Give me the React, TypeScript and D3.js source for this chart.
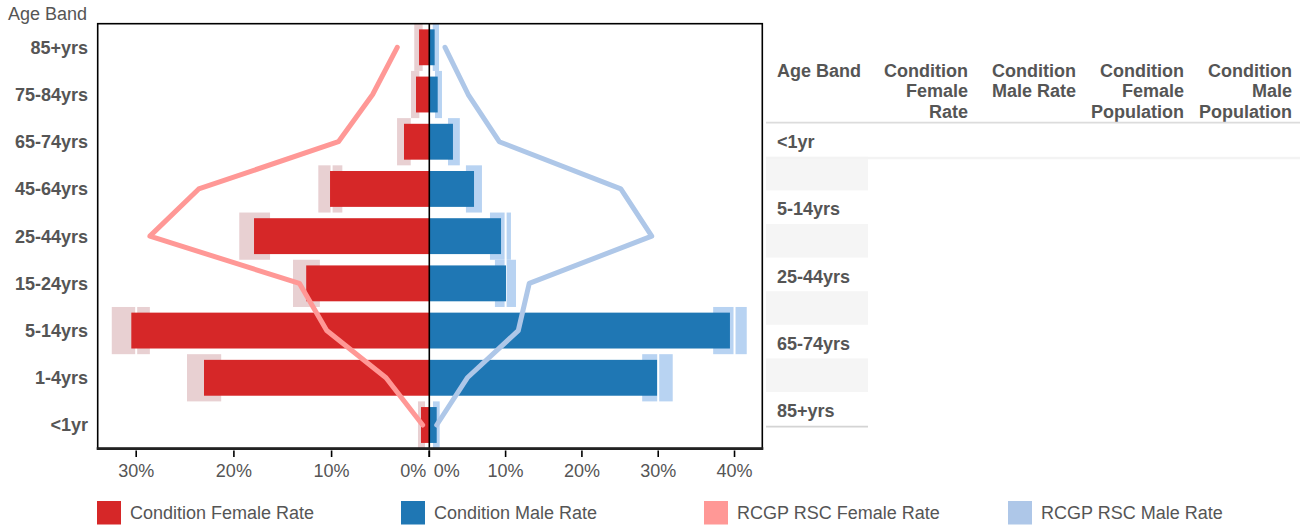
import React from "react";
import * as d3 from "d3";

// ---------- data ----------
const ageBands = ["<1yr", "1-4yrs", "5-14yrs", "15-24yrs", "25-44yrs", "45-64yrs", "65-74yrs", "75-84yrs", "85+yrs"];
const femaleRate = [0.85, 23.06, 30.5, 12.6, 17.94, 10.16, 2.59, 1.36, 1.05];
const femaleLow = [0.44, 21.3, 28.6, 11.2, 16.3, 8.9, 1.9, 1.02, 0.68];
const femaleHigh = [1.16, 24.8, 32.5, 13.95, 19.45, 11.36, 3.3, 1.87, 1.54];
const maleRate = [0.97, 29.85, 39.4, 10.05, 9.4, 5.86, 3.1, 1.1, 0.7];
const maleLow = [0.48, 27.9, 37.2, 8.6, 7.95, 4.8, 2.45, 0.75, 0.45];
const maleHigh = [1.36, 31.9, 41.6, 11.36, 10.7, 6.9, 4.0, 1.66, 1.27];
const rcgpFemaleRate = [0.68, 4.43, 10.5, 13.3, 28.6, 23.6, 9.3, 5.8, 3.28];
const rcgpMaleRate = [0.97, 4.98, 11.66, 13.1, 29.15, 25.1, 9.17, 5.1, 2.06];
const femaleTicks = [0, 10, 20, 30];
const maleTicks = [0, 10, 20, 30, 40];
const legendLabels = ["Condition Female Rate", "Condition Male Rate", "RCGP RSC Female Rate", "RCGP RSC Male Rate"];
const tableHeaders = [
  ["Condition", "Female", "Rate"],
  ["Condition", "Male Rate"],
  ["Condition", "Female", "Population"],
  ["Condition", "Male", "Population"],
];

// ---------- styles ----------
const FONT = "'Liberation Sans', Arial, sans-serif";
const TXT = "#555555";
const C_F = "#d62728";
const C_M = "#1f77b4";
const C_RF = "#ff9896";
const C_RM = "#aec7e8";
const C_FBOX = "#e8d0d2";
const C_MBOX = "#b8d3f2";

const W = 1309;
const H = 529;
const left = 97.7;
const mid = 429.3;
const right = 762.3;
const top = 23.7;
const bottom = 448.6;

export default function App() {
  const rows = ageBands.map((b, i) => ({
    band: b,
    f: femaleRate[i], fl: femaleLow[i], fh: femaleHigh[i],
    m: maleRate[i], ml: maleLow[i], mh: maleHigh[i],
    rf: rcgpFemaleRate[i], rm: rcgpMaleRate[i],
  }));

  const y = d3.scaleBand<string>()
    .domain([...ageBands].reverse())
    .range([top, bottom])
    .paddingInner(0.24)
    .paddingOuter(0.12);
  const step = y.step();
  const cy = (b: string) => (y(b) as number) + y.bandwidth() / 2;

  const xF = d3.scaleLinear().domain([0, 33.94]).range([mid, left]);
  const xM = d3.scaleLinear().domain([0, 43.64]).range([mid, right]);

  const lineF = d3.line<typeof rows[number]>().x((d) => xF(d.rf)).y((d) => cy(d.band));
  const lineM = d3.line<typeof rows[number]>().x((d) => xM(d.rm)).y((d) => cy(d.band));

  const legendColors = [C_F, C_M, C_RF, C_RM];
  const legendX = [97, 401, 704, 1008];

  // table
  const tLeft = 766;
  const tRight = 1300;
  const col1Right = 868;
  const colRights = [968, 1076, 1184, 1292];
  const headTop = 76.5;
  const lineH = 20.7;
  const headBorder = 122.7;
  const rowH = 33.6;

  return (
    <svg width={W} height={H} style={{ position: "absolute", left: 0, top: 0, background: "#fff" }} fontFamily={FONT}>
      {/* title */}
      <text x={8} y={20} fontSize={18} fill={TXT}>Age Band</text>

      {/* error boxes */}
      {rows.map((d) => (
        <g key={"eb" + d.band}>
          <rect x={xF(d.fh)} y={cy(d.band) - step / 2} width={xF(d.fl) - xF(d.fh)} height={step} fill={C_FBOX} />
          <rect x={xM(d.ml)} y={cy(d.band) - step / 2} width={xM(d.mh) - xM(d.ml)} height={step} fill={C_MBOX} />
        </g>
      ))}

      {/* white gridlines */}
      {femaleTicks.filter((t) => t > 0).map((t) => (
        <line key={"gf" + t} x1={xF(t)} x2={xF(t)} y1={top} y2={bottom} stroke="#fff" strokeWidth={2} />
      ))}
      {maleTicks.filter((t) => t > 0).map((t) => (
        <line key={"gm" + t} x1={xM(t)} x2={xM(t)} y1={top} y2={bottom} stroke="#fff" strokeWidth={2} />
      ))}

      {/* bars */}
      {rows.map((d) => (
        <g key={"b" + d.band}>
          <rect x={xF(d.f)} y={y(d.band)} width={mid - xF(d.f)} height={y.bandwidth()} fill={C_F} />
          <rect x={mid} y={y(d.band)} width={xM(d.m) - mid} height={y.bandwidth()} fill={C_M} />
        </g>
      ))}

      {/* rcgp lines */}
      <path d={lineF(rows) || ""} fill="none" stroke={C_RF} strokeWidth={5} strokeLinejoin="round" strokeLinecap="round" />
      <path d={lineM(rows) || ""} fill="none" stroke={C_RM} strokeWidth={5} strokeLinejoin="round" strokeLinecap="round" />

      {/* frame */}
      <rect x={left} y={top} width={right - left} height={bottom - top} fill="none" stroke="#000" strokeWidth={1.6} />
      <line x1={mid} x2={mid} y1={top} y2={bottom} stroke="#000" strokeWidth={1.6} />
      <line x1={left - 1} x2={right + 1} y1={bottom} y2={bottom} stroke="#222" strokeWidth={2.6} />

      {/* y labels */}
      {ageBands.map((b) => (
        <text key={"yl" + b} x={88} y={cy(b)} dy="0.36em" textAnchor="end" fontSize={18} fontWeight="bold" fill={TXT}>{b}</text>
      ))}

      {/* x ticks */}
      {femaleTicks.map((t) => (
        <g key={"tf" + t}>
          <line x1={xF(t)} x2={xF(t)} y1={450.5} y2={457} stroke="#000" strokeWidth={1.6} />
          <text x={t === 0 ? xF(t) - 3 : xF(t)} y={477} textAnchor={t === 0 ? "end" : "middle"} fontSize={18} fill={TXT}>{t}%</text>
        </g>
      ))}
      {maleTicks.map((t) => (
        <g key={"tm" + t}>
          <line x1={xM(t)} x2={xM(t)} y1={450.5} y2={457} stroke="#000" strokeWidth={1.6} />
          <text x={t === 0 ? xM(t) + 4.5 : xM(t)} y={477} textAnchor={t === 0 ? "start" : "middle"} fontSize={18} fill={TXT}>{t}%</text>
        </g>
      ))}

      {/* legend */}
      {legendLabels.map((l, i) => (
        <g key={"lg" + l}>
          <rect x={legendX[i]} y={501} width={24} height={23.5} fill={legendColors[i]} />
          <text x={legendX[i] + 33} y={519} fontSize={18} fill={TXT}>{l}</text>
        </g>
      ))}

      {/* table */}
      <text x={777} y={headTop} fontSize={18} fontWeight="bold" fill={TXT}>Age Band</text>
      {tableHeaders.map((lines, ci) => (
        <text key={"th" + ci} x={colRights[ci]} y={headTop} textAnchor="end" fontSize={18} fontWeight="bold" fill={TXT}>
          {lines.map((ln, li) => (
            <tspan key={li} x={colRights[ci]} y={headTop + li * lineH}>{ln}</tspan>
          ))}
        </text>
      ))}
      <line x1={tLeft} x2={tRight} y1={headBorder} y2={headBorder} stroke="#dcdcdc" strokeWidth={1.8} />
      {ageBands.map((b, i) => {
        const y0 = headBorder + 0.5 + i * rowH;
        const odd = i % 2 === 1;
        return (
          <g key={"tr" + b}>
            {odd && <rect x={tLeft} y={y0} width={col1Right - tLeft} height={rowH} fill="#f5f5f5" />}
            {i === 1 && <rect x={tLeft} y={y0} width={tRight - tLeft} height={2.5} fill="#f3f3f3" />}
            {!odd && <text x={777} y={y0 + 25} fontSize={18} fontWeight="bold" fill={TXT}>{b}</text>}
          </g>
        );
      })}
      <line x1={tLeft} x2={col1Right} y1={headBorder + 0.5 + 9 * rowH + 1} y2={headBorder + 0.5 + 9 * rowH + 1} stroke="#d4d4d4" strokeWidth={1.8} />
    </svg>
  );
}
